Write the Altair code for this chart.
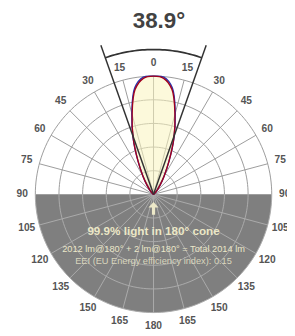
import altair as alt
import pandas as pd
import numpy as np

# ---------------- data ----------------
angles = [0, 5, 10, 15, 20, 25, 30, 35, 40, 45, 50, 55, 60, 70, 80, 90]
c0_c180 = [1.00, 0.985, 0.90, 0.70, 0.50, 0.31, 0.18, 0.10, 0.05, 0.025, 0.012, 0.006, 0.003, 0.001, 0.0, 0.0]
c90_c270 = [1.00, 0.995, 0.915, 0.71, 0.505, 0.31, 0.18, 0.10, 0.05, 0.025, 0.012, 0.006, 0.003, 0.001, 0.0, 0.0]
ring_levels = [0.2, 0.4, 0.6, 0.8, 1.0]
spoke_angles = [0, 15, 30, 45, 60, 75, 105, 120, 135, 150, 165, 180]
label_angles = [0, 15, 30, 45, 60, 75, 90, 105, 120, 135, 150, 165, 180]
beam_angle = 38.9
title_text = "38.9°"
cone_text = "99.9% light in 180° cone"
lumen_text = "2012 lm@180° + 2 lm@180° = Total 2014 lm"
eei_text = "EEI (EU Energy efficiency index): 0.15"

# ---------------- layout constants ----------------
R = 121.6            # px for relative intensity 1.0
CX, CY = 157.7, 195  # page position of the pole
W, H = 287, 328
XMIN, XMAX = 8 - CX, 8 + W - CX
YMIN, YMAX = CY - (8 + H), CY - 8
FONT = "Liberation Sans"

def X(f):
    return alt.X(f"{f}:Q", scale=alt.Scale(domain=[XMIN, XMAX], nice=False, zero=False), axis=None)

def Y(f):
    return alt.Y(f"{f}:Q", scale=alt.Scale(domain=[YMIN, YMAX], nice=False, zero=False), axis=None)

def px(theta_deg, r):
    t = np.radians(theta_deg)
    return r * R * np.sin(t), r * R * np.cos(t)

# lower (backward) half disc
th = np.arange(90, 271, 2)
hx, hy = px(th, 1.0)
half_df = pd.DataFrame({"x": hx, "y": hy, "y0": 0.0})
half = alt.Chart(half_df).mark_area(color="#7f7f7f", orient="vertical").encode(
    x=X("x"), y=Y("y"), y2="y0")

# grid rings
rows = []
for lv in ring_levels:
    for part, rng in (("up", np.arange(-90, 91, 2)), ("down", np.arange(90, 271, 2))):
        gx, gy = px(rng, lv)
        for a, b, t in zip(gx, gy, rng):
            rows.append({"x": a, "y": b, "t": t, "ring": f"{part}{lv}", "part": part})
ring_df = pd.DataFrame(rows)
rings_up = alt.Chart(ring_df[ring_df.part == "up"]).mark_line(
    color="#9a9a9a", strokeWidth=1).encode(x=X("x"), y=Y("y"), detail="ring:N", order="t:Q")
rings_dn = alt.Chart(ring_df[ring_df.part == "down"]).mark_line(
    color="#ababab", strokeWidth=1).encode(x=X("x"), y=Y("y"), detail="ring:N", order="t:Q")

# spokes
srows = []
for a in spoke_angles:
    for sgn in ([1] if a in (0, 180) else [1, -1]):
        ex, ey = px(sgn * a, 1.0)
        srows.append({"x": 0.0, "y": 0.0, "x2": ex, "y2": ey, "up": a < 90})
sp_df = pd.DataFrame(srows)
spokes_up = alt.Chart(sp_df[sp_df.up]).mark_rule(color="#9a9a9a", strokeWidth=1).encode(
    x=X("x"), y=Y("y"), x2="x2", y2="y2")
spokes_dn = alt.Chart(sp_df[~sp_df.up]).mark_rule(color="#ababab", strokeWidth=1).encode(
    x=X("x"), y=Y("y"), x2="x2", y2="y2")

# lobe fill (C0-C180)
lr = np.array(c0_c180)
la = np.array(angles)
fx, fy = px(la, lr)
fill_df = pd.DataFrame({"y": fy, "xl": -fx, "xr": fx}).drop_duplicates("y")
lobe_fill = alt.Chart(fill_df).mark_area(
    color="#f9f4bd", opacity=0.55, orient="horizontal", interpolate="monotone").encode(
    y=Y("y"), x=X("xl"), x2="xr")

# curves
def curve_df(vals):
    a = np.concatenate([-la[::-1], la[1:]])
    r = np.concatenate([np.array(vals)[::-1], np.array(vals)[1:]])
    cx, cy = px(a, r)
    return pd.DataFrame({"x": cx, "y": cy, "a": a})

blue = alt.Chart(curve_df(c90_c270)).mark_line(
    color="#2a35b0", strokeWidth=1.4, interpolate="catmull-rom").encode(
    x=X("x"), y=Y("y"), order="a:Q")
red = alt.Chart(curve_df(c0_c180)).mark_line(
    color="#a0001e", strokeWidth=1.4, interpolate="catmull-rom").encode(
    x=X("x"), y=Y("y"), order="a:Q")

# beam angle lines and arc
half_beam = beam_angle / 2
brows = []
for sgn in (1, -1):
    ex, ey = px(sgn * half_beam, 162.7 / R)
    brows.append({"x": 0.0, "y": 0.0, "x2": ex, "y2": ey})
beam_lines = alt.Chart(pd.DataFrame(brows)).mark_rule(color="#333333", strokeWidth=1.5).encode(
    x=X("x"), y=Y("y"), x2="x2", y2="y2")
arc_t = np.linspace(-half_beam, half_beam, 40)
ax_, ay_ = px(arc_t, 149.0 / R)
beam_arc = alt.Chart(pd.DataFrame({"x": ax_, "y": ay_, "t": arc_t})).mark_line(
    color="#333333", strokeWidth=1.8).encode(x=X("x"), y=Y("y"), order="t:Q")

# angle labels
lrows = []
for a in label_angles:
    for sgn in ([1] if a in (0, 180) else [1, -1]):
        tx, ty = px(sgn * a, 135.0 / R)
        lrows.append({"x": tx, "y": ty, "label": str(a)})
labels = alt.Chart(pd.DataFrame(lrows)).mark_text(
    font=FONT, fontSize=10.5, fontWeight="bold", color="#555555", baseline="middle", align="center").encode(
    x=X("x"), y=Y("y"), text="label:N")

# texts
title = alt.Chart(pd.DataFrame({"x": [163.3 - CX], "y": [CY - 24], "t": [title_text]})).mark_text(
    font=FONT, fontSize=23, fontWeight="bold", color="#424242", baseline="alphabetic", align="center").encode(
    x=X("x"), y=Y("y"), text="t:N")
cone = alt.Chart(pd.DataFrame({"x": [0.0], "y": [CY - 232.5], "t": [cone_text]})).mark_text(
    font=FONT, fontSize=12, fontWeight="bold", color="#ebe7c6", baseline="middle", align="center").encode(
    x=X("x"), y=Y("y"), text="t:N")
lumen = alt.Chart(pd.DataFrame({"x": [0.0], "y": [CY - 251.5], "t": [lumen_text]})).mark_text(
    font=FONT, fontSize=9.5, color="#ebe7c9", baseline="middle", align="center").encode(
    x=X("x"), y=Y("y"), text="t:N")
eei = alt.Chart(pd.DataFrame({"x": [0.0], "y": [CY - 263.5], "t": [eei_text]})).mark_text(
    font=FONT, fontSize=9.5, color="#d9d6bd", baseline="middle", align="center").encode(
    x=X("x"), y=Y("y"), text="t:N")

arrow_shape = "M0,-1L0.8,-0.15L0.25,-0.15L0.25,1L-0.25,1L-0.25,-0.15L-0.8,-0.15Z"
arrow = alt.Chart(pd.DataFrame({"x": [0.0], "y": [CY - 209.5]})).mark_point(
    shape=arrow_shape, size=170, filled=True, color="#ece8c8", opacity=1, strokeWidth=0).encode(
    x=X("x"), y=Y("y"))

chart = alt.layer(
    half, rings_up, rings_dn, spokes_up, spokes_dn, lobe_fill, blue, red,
    beam_lines, beam_arc, labels, title, cone, lumen, eei, arrow
).properties(
    width=W, height=H, padding=0, autosize=alt.AutoSizeParams(type="none")
).configure_view(stroke=None)

chart.save("out.html", embed_options={"renderer": "svg", "actions": False})
